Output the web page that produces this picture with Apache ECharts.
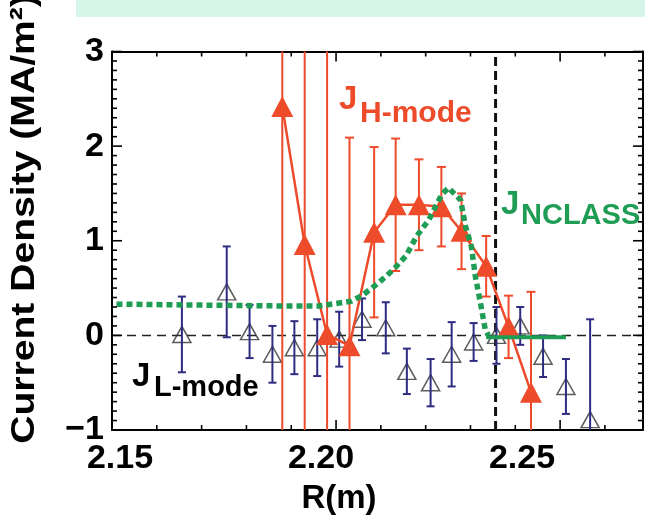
<!DOCTYPE html>
<html><head><meta charset="utf-8">
<script src="https://cdn.jsdelivr.net/npm/echarts@6/dist/echarts.min.js"></script>
<style>html,body{margin:0;padding:0;background:#fff}#c{width:645px;height:523px}</style>
</head><body><div id="c"></div>
<script>
// ---- data ----
const xTickValues = [2.15, 2.20, 2.25];
const xTickLabels = ['2.15', '2.20', '2.25'];
const yTickLabels = ['−1', '0', '1', '2', '3'];
// tick mark positions (minor every 0.01 m / 0.1 MA/m²)
const xTicks = [2.15, 2.16, 2.17, 2.18, 2.19, 2.20, 2.21, 2.22, 2.23, 2.24, 2.25, 2.26];
const yTicks = [-1, -0.9, -0.8, -0.7, -0.6, -0.5, -0.4, -0.3, -0.2, -0.1, 0, 0.1, 0.2, 0.3, 0.4, 0.5, 0.6, 0.7, 0.8, 0.9,
  1, 1.1, 1.2, 1.3, 1.4, 1.5, 1.6, 1.7, 1.8, 1.9, 2, 2.1, 2.2, 2.3, 2.4, 2.5, 2.6, 2.7, 2.8, 2.9, 3];

const hModeR   = [2.188, 2.193, 2.198, 2.203, 2.2085, 2.2133, 2.2185, 2.2235, 2.228, 2.2335, 2.2385, 2.2435];
const hModeJ   = [2.42, 0.96, 0.01, -0.11, 1.09, 1.38, 1.38, 1.36, 1.10, 0.73, 0.09, -0.60];
const hModeErr = [5, 5, 5, 2.2, 0.9, 0.7, 0.48, 0.42, 0.4, 0.32, 0.33, 1.06];

const lModeR   = [2.1656, 2.1756, 2.1807, 2.1858, 2.1907, 2.1958, 2.2007, 2.2058, 2.2111, 2.2158, 2.2211, 2.2258, 2.2307, 2.2358, 2.2411, 2.2462, 2.2513, 2.2567];
const lModeJ   = [0.01, 0.46, 0.04, -0.20, -0.13, -0.13, -0.04, 0.17, 0.08, -0.38, -0.50, -0.20, -0.07, 0.00, 0.10, -0.22, -0.54, -0.89];
const lModeErr = [0.40, 0.48, 0.28, 0.30, 0.28, 0.30, 0.29, 0.22, 0.27, 0.24, 0.25, 0.34, 0.20, 0.30, 0.20, 0.22, 0.29, 1.06];

const nclassR = [2.151, 2.17, 2.19, 2.1962, 2.2033, 2.2058, 2.2096, 2.2129, 2.2156, 2.218, 2.2207, 2.2236, 2.2251, 2.2278, 2.2289, 2.2302, 2.2311, 2.2322, 2.2333, 2.234];
const nclassJ = [0.33, 0.32, 0.31, 0.31, 0.36, 0.42, 0.56, 0.70, 0.84, 1.05, 1.22, 1.49, 1.56, 1.43, 1.15, 0.94, 0.62, 0.35, 0.06, 0.0];
const nclassFlatR = [2.2335, 2.2513];
const nclassFlatJ = [-0.02, -0.02];

const separatrixR = 2.2356;

// ---- layout/style ----
const X_MIN = 2.15, X_MAX = 2.2685, Y_MIN = -1, Y_MAX = 3;
// label-only axis (the figure's tick labels sit slightly off their ticks)
const XL_MIN = 2.14801, XL_MAX = 2.28010;
const RED = '#ee4b2b', NAVY = '#2e2c80', GREEN = '#1f9d55';
const FONT = 'Liberation Sans, Arial, Helvetica, sans-serif';

const pairs = (xs, ys) => xs.map((x, i) => [x, ys[i]]);
const isMajorX = v => Math.abs(v * 20 - Math.round(v * 20)) < 1e-6;
const isMajorY = v => Math.abs(v - Math.round(v)) < 1e-6;

function errSeries(xs, ys, es, color, capW, lineW, z) {
  return {
    type: 'custom', z: z, silent: true,
    encode: { x: 0, y: [1, 2] },
    data: xs.map((x, i) => [x, ys[i] - es[i], ys[i] + es[i]]),
    renderItem: function (params, api) {
      const x = api.value(0);
      let lo = api.value(1), hi = api.value(2);
      const capLo = lo >= Y_MIN, capHi = hi <= Y_MAX;
      lo = Math.max(lo, Y_MIN); hi = Math.min(hi, Y_MAX);
      const a = api.coord([x, lo]), b = api.coord([x, hi]);
      const st = { stroke: color, lineWidth: lineW };
      const ch = [{ type: 'line', shape: { x1: a[0], y1: a[1], x2: b[0], y2: b[1] }, style: st }];
      if (capLo) ch.push({ type: 'line', shape: { x1: a[0] - capW / 2, y1: a[1], x2: a[0] + capW / 2, y2: a[1] }, style: st });
      if (capHi) ch.push({ type: 'line', shape: { x1: b[0] - capW / 2, y1: b[1], x2: b[0] + capW / 2, y2: b[1] }, style: st });
      return { type: 'group', children: ch };
    }
  };
}

const axisLineOn = { show: true, onZero: false, lineStyle: { color: '#000', width: 2 } };
const axisLineOff = { show: false, onZero: false };
function xAx(pos) {
  return {
    type: 'value', position: pos, min: X_MIN, max: X_MAX,
    axisLine: axisLineOn, axisTick: { show: false }, splitLine: { show: false }, axisLabel: { show: false }
  };
}
function yAx(pos, labels) {
  return {
    type: 'value', position: pos, min: Y_MIN, max: Y_MAX, interval: 1,
    axisLine: axisLineOn, axisTick: { show: false }, minorTick: { show: false },
    splitLine: { show: false }, minorSplitLine: { show: false },
    axisLabel: labels ? {
      show: true, margin: 8, fontSize: 34, fontWeight: 'bold', fontFamily: FONT, color: '#000',
      formatter: v => yTickLabels[Math.round(v - Y_MIN)]
    } : { show: false }
  };
}

const labelGraphics = [
  { type: 'rect', id: 'band', left: 76, top: 0, shape: { width: 569, height: 17 }, style: { fill: '#d6f5e9' }, z: -1 },
  { type: 'text', id: 'ytitle', x: 25, y: 219, rotation: Math.PI / 2, scaleX: 1.15,
    style: { text: 'Current Density (MA/m²)', font: 'bold 34px ' + FONT, fill: '#000', align: 'center', verticalAlign: 'middle' } },
  { type: 'text', id: 'xtitle', x: 339, y: 499,
    style: { text: 'R(m)', font: 'bold 33px ' + FONT, fill: '#000', align: 'center', verticalAlign: 'middle' } },
  { type: 'text', id: 'jh', x: 339, y: 100, z: 50, style: { text: 'J', font: 'bold 33px ' + FONT, fill: RED, align: 'left', verticalAlign: 'middle' } },
  { type: 'text', id: 'jhs', x: 360, y: 114, z: 50, style: { text: 'H-mode', font: 'bold 30px ' + FONT, fill: RED, align: 'left', verticalAlign: 'middle' } },
  { type: 'text', id: 'jn', x: 501, y: 205, z: 50, style: { text: 'J', font: 'bold 33px ' + FONT, fill: GREEN, align: 'left', verticalAlign: 'middle' } },
  { type: 'text', id: 'jns', x: 521, y: 216, z: 50, style: { text: 'NCLASS', font: 'bold 29px ' + FONT, fill: GREEN, align: 'left', verticalAlign: 'middle' } },
  { type: 'text', id: 'jl', x: 132, y: 377, z: 50, style: { text: 'J', font: 'bold 33px ' + FONT, fill: '#000', align: 'left', verticalAlign: 'middle' } },
  { type: 'text', id: 'jls', x: 154, y: 388, z: 50, style: { text: 'L-mode', font: 'bold 29px ' + FONT, fill: '#000', align: 'left', verticalAlign: 'middle' } }
];

const chart = echarts.init(document.getElementById('c'), null, { renderer: 'canvas' });
chart.setOption({
  animation: false,
  backgroundColor: '#fff',
  grid: { left: 112, right: 2, top: 51.5, bottom: 93, containLabel: false, outerBoundsMode: 'none' },
  xAxis: [
    xAx('bottom'),
    xAx('top'),
    {
      type: 'value', position: 'bottom', min: XL_MIN, max: XL_MAX,
      axisLine: axisLineOff, axisTick: { show: false }, splitLine: { show: false },
      axisLabel: { show: true, customValues: xTickValues, margin: 12,
        formatter: v => xTickLabels[xTickValues.findIndex(t => Math.abs(t - v) < 1e-6)] || '',
        fontSize: 34, fontWeight: 'bold', fontFamily: FONT, color: '#000' }
    }
  ],
  yAxis: [yAx('left', true), yAx('right', false)],
  graphic: labelGraphics,
  series: [
    { type: 'line', z: 1, silent: true, symbol: 'none', data: [[X_MIN, 0], [X_MAX, 0]],
      lineStyle: { color: '#222', width: 1.5, type: [9, 6] } },
    { type: 'line', z: 1, silent: true, symbol: 'none', data: [[separatrixR, Y_MIN], [separatrixR, Y_MAX]],
      lineStyle: { color: '#111', width: 3, type: [9, 5] } },
    { type: 'scatter', z: 3, data: pairs(lModeR, lModeJ), symbol: 'triangle', symbolSize: [18, 16],
      itemStyle: { color: 'rgba(255,255,255,0)', borderColor: '#333', borderWidth: 1.5 } },
    errSeries(lModeR, lModeJ, lModeErr, NAVY, 8, 2, 4),
    { type: 'line', z: 5, data: pairs(hModeR, hModeJ), symbol: 'triangle', symbolSize: [22, 21], showSymbol: true,
      lineStyle: { color: RED, width: 2.5 }, itemStyle: { color: RED } },
    errSeries(hModeR, hModeJ, hModeErr, RED, 9, 2, 5),
    { type: 'line', z: 6, data: pairs(nclassR, nclassJ), symbol: 'none',
      lineStyle: { color: GREEN, width: 5.5, type: [6, 4] } },
    { type: 'line', z: 6, data: pairs(nclassFlatR, nclassFlatJ), symbol: 'none',
      lineStyle: { color: GREEN, width: 4 } }
  ]
});

// inward tick marks on all four sides, positioned through the axes' own scales
const toPx = (x, y) => chart.convertToPixel({ xAxisIndex: 0, yAxisIndex: 0 }, [x, y]);
const tickStyle = { stroke: '#000', lineWidth: 1.6 };
const tickGraphics = [];
xTicks.forEach((v, i) => {
  const len = isMajorX(v) ? 10 : 5;
  const b = toPx(v, Y_MIN), t = toPx(v, Y_MAX);
  tickGraphics.push({ type: 'line', id: 'xb' + i, z: 100, silent: true, shape: { x1: b[0], y1: b[1], x2: b[0], y2: b[1] - len }, style: tickStyle });
  tickGraphics.push({ type: 'line', id: 'xt' + i, z: 100, silent: true, shape: { x1: t[0], y1: t[1], x2: t[0], y2: t[1] + len }, style: tickStyle });
});
yTicks.forEach((v, i) => {
  const len = isMajorY(v) ? 10 : 5;
  const l = toPx(X_MIN, v), r = toPx(X_MAX, v);
  tickGraphics.push({ type: 'line', id: 'yl' + i, z: 100, silent: true, shape: { x1: l[0], y1: l[1], x2: l[0] + len, y2: l[1] }, style: tickStyle });
  tickGraphics.push({ type: 'line', id: 'yr' + i, z: 100, silent: true, shape: { x1: r[0], y1: r[1], x2: r[0] - len, y2: r[1] }, style: tickStyle });
});
chart.setOption({ graphic: labelGraphics.concat(tickGraphics) });
</script>
</body></html>
